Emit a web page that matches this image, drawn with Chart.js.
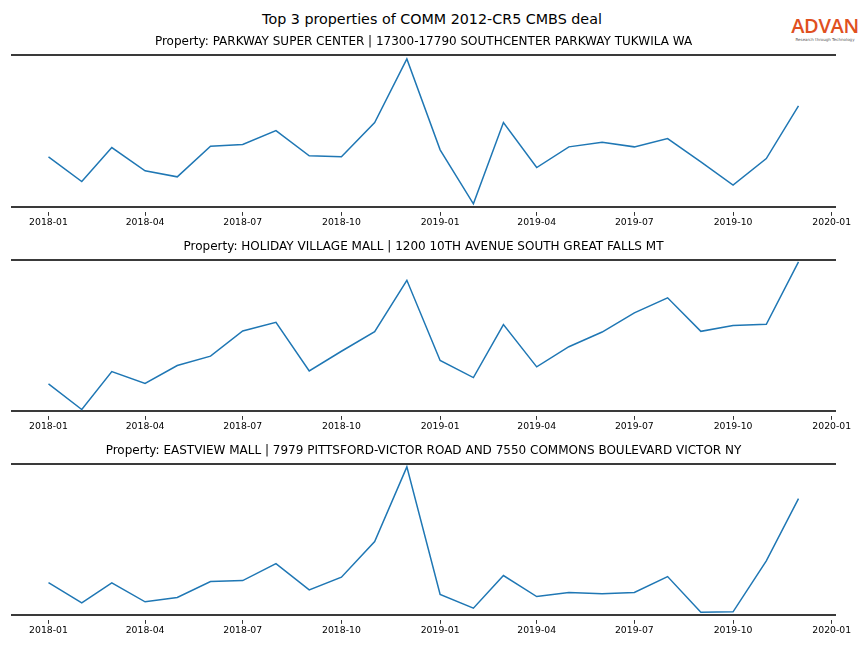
<!DOCTYPE html>
<html>
<head>
<meta charset="utf-8">
<script src="https://cdn.jsdelivr.net/npm/chart.js@4"></script>
<style>
  html, body { margin: 0; padding: 0; background: #fff; }
  body { width: 864px; height: 648px; position: relative; overflow: hidden; font-family: "DejaVu Sans", sans-serif; }
  #title { position: absolute; left: 0; width: 864px; top: 10px; text-align: center; font-size: 14.3px; color: #000; line-height: 18px; }
  canvas { position: absolute; left: 0; }
  #logo { position: absolute; left: 789px; top: 15px; width: 72px; text-align: center; }
  #logo .brand { font-family: "Open Sans", "Liberation Sans", sans-serif; font-weight: 600; font-size: 20px; color: #e0501f; line-height: 22px; letter-spacing: -0.3px; }
  #logo .tag { font-family: "DejaVu Sans", sans-serif; font-size: 4px; color: #555; line-height: 5px; white-space: nowrap; }
</style>
</head>
<body>
<div id="title">Top 3 properties of COMM 2012-CR5 CMBS deal</div>
<div id="logo"><div class="brand">ADVAN</div><div class="tag">Research through Technology</div></div>
<canvas id="c0" width="864" height="199" style="top:30px;width:864px;height:199px"></canvas>
<canvas id="c1" width="864" height="198" style="top:235px;width:864px;height:198px"></canvas>
<canvas id="c2" width="864" height="198" style="top:439px;width:864px;height:198px"></canvas>
<script>
// ---- data ----
const months = ['2018-01','2018-02','2018-03','2018-04','2018-05','2018-06','2018-07','2018-08','2018-09','2018-10','2018-11','2018-12',
                '2019-01','2019-02','2019-03','2019-04','2019-05','2019-06','2019-07','2019-08','2019-09','2019-10','2019-11','2019-12'];
const tickLabels = ['2018-01','2018-04','2018-07','2018-10','2019-01','2019-04','2019-07','2019-10','2020-01'];
const propertyTitles = [
  'Property: PARKWAY SUPER CENTER | 17300-17790 SOUTHCENTER PARKWAY TUKWILA WA',
  'Property: HOLIDAY VILLAGE MALL | 1200 10TH AVENUE SOUTH GREAT FALLS MT',
  'Property: EASTVIEW MALL | 7979 PITTSFORD-VICTOR ROAD AND 7550 COMMONS BOULEVARD VICTOR NY'
];
const parkway = [50, 25.3, 59.3, 36, 30, 60.7, 62.3, 76.3, 51, 50, 84.3, 148,
                 57, 3, 84.3, 39.3, 60, 64.7, 60, 68.3, 45, 21.7, 48.3, 101];
const holidayVillage = [26.7, 1.3, 39, 27.3, 45, 54.3, 79.3, 88, 39.7, 59.2, 78.7, 129.7,
                        50, 33, 85.7, 43.7, 63.7, 78.3, 97.3, 112.3, 79, 84.7, 86, 148];
const eastview = [32.3, 12, 32, 13, 17.3, 33.3, 34.3, 51.3, 25, 37.7, 73.3, 148,
                  20.3, 6.7, 39.3, 18.3, 22.3, 21, 22.3, 38.3, 2.7, 3, 54, 116.3];
const seriesList = [parkway, holidayVillage, eastview];
const yTop = [152, 150, 151];   // value at upper frame line
const yFloor = -5;              // axis bottom below lower frame line

// ---- helpers ----
const DAY = 86400000;
const origin = Date.UTC(2018, 0, 1);
function dayOf(ym) { const [y, m] = ym.split('-').map(Number); return (Date.UTC(y, m - 1, 1) - origin) / DAY; }
const xs = months.map(dayOf);
const tickVals = tickLabels.map(dayOf);
const span = xs[xs.length - 1] - xs[0];
const xMin = xs[0] - span * 0.05, xMax = xs[xs.length - 1] + span * 0.05;
const labelByVal = {};
tickLabels.forEach((l, i) => labelByVal[tickVals[i]] = l);

seriesList.forEach((vals, i) => {
  new Chart(document.getElementById('c' + i), {
    type: 'line',
    data: {
      datasets: [{
        data: vals.map((v, k) => ({ x: xs[k], y: v })),
        borderColor: '#1f77b4', borderWidth: 1.5, pointRadius: 0, tension: 0, fill: false
      }]
    },
    options: {
      responsive: false, animation: false, devicePixelRatio: 1,
      layout: { padding: { left: 11, right: 28, top: 0, bottom: 0 } },
      plugins: {
        legend: { display: false }, tooltip: { enabled: false },
        title: { display: true, text: propertyTitles[i], color: '#000',
                 font: { family: 'DejaVu Sans', size: 12, weight: 'normal' }, padding: { top: 4.5, bottom: 6 } }
      },
      scales: {
        x: {
          type: 'linear', min: xMin, max: xMax,
          afterBuildTicks: ax => { ax.ticks = tickVals.map(v => ({ value: v })); },
          ticks: { callback: v => labelByVal[v] ?? '', color: '#000', font: { family: 'DejaVu Sans', size: 9.3 }, padding: 1, maxRotation: 0, autoSkip: false },
          grid: { drawOnChartArea: false, drawTicks: true, tickLength: 4, color: '#000', lineWidth: 0.8 },
          border: { display: false }
        },
        y: {
          min: yFloor, max: yTop[i],
          afterBuildTicks: ax => { ax.ticks = [{ value: 0 }, { value: yTop[i] }]; },
          ticks: { display: false },
          grid: { drawTicks: false, color: '#3a3a3a', lineWidth: 2 },
          border: { display: false }
        }
      }
    }
  });
});
</script>
</body>
</html>
